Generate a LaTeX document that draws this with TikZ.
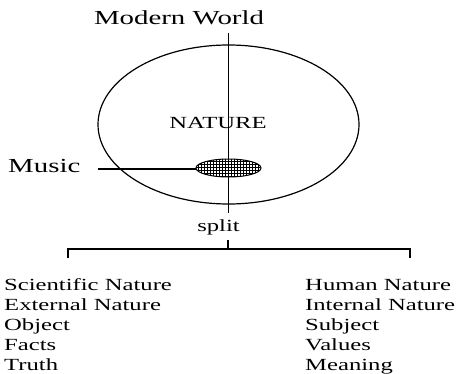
\documentclass[tikz,border=0pt]{standalone}
\usepackage{fontspec}
\setmainfont{Liberation Serif}[FakeStretch=1.45]
\usetikzlibrary{positioning,shapes.geometric,patterns}

\begin{document}
\begin{tikzpicture}[
  x=1pt,y=-1pt,
  big/.style={font=\fontsize{19.9}{22}\selectfont,inner sep=0pt},
  mid/.style={font=\fontsize{17}{19.8}\selectfont,inner sep=0pt},
  lst/.style={font=\fontsize{17}{19.8}\selectfont,inner sep=0pt,align=left,anchor=base west},
  ln/.style={line width=1.2pt},
  blob/.style={draw,ellipse,line width=1pt,minimum width=65pt,minimum height=18pt,inner sep=0pt,pattern=grid}
]
\useasboundingbox (0,0) rectangle (457,374);
% title and axis
\node[big,anchor=base] (world) at (179,25) {Modern World};
\coordinate (top) at (228.5,33);
\coordinate (bot) at (228.5,213);
\draw[ln] (top) -- (bot);
% nature circle
\draw[ln] (228.5,124.5) ellipse [x radius=130.5,y radius=79.5];
\node[mid,anchor=base] (nature) at (218,129) {NATURE};
% music
\node[blob] (dot) at (228.5,168) {};
\node[big,anchor=base west] (music) at (8,172) {Music};
\coordinate (mstart) at (98,169);
\draw[ln] (mstart) -- (dot.west |- mstart);
% split
\node[mid,anchor=base] (split) at (218.5,231) {split};
\coordinate (stem) at (228,240);
\coordinate (mid) at (228,249);
\coordinate (bl) at (68,249);
\coordinate (br) at (410,249);
\draw[ln] (stem) -- (mid);
\draw[ln] ([yshift=-9]bl) -- (bl) -- (br) -- ([yshift=-9]br);
% the two halves (base = last line)
\node[lst] (sci) at (4,370) {Scientific Nature\\External Nature\\Object\\Facts\\Truth};
\node[lst] (hum) at (305,370) {Human Nature\\Internal Nature\\Subject\\Values\\Meaning};
\end{tikzpicture}
\end{document}
